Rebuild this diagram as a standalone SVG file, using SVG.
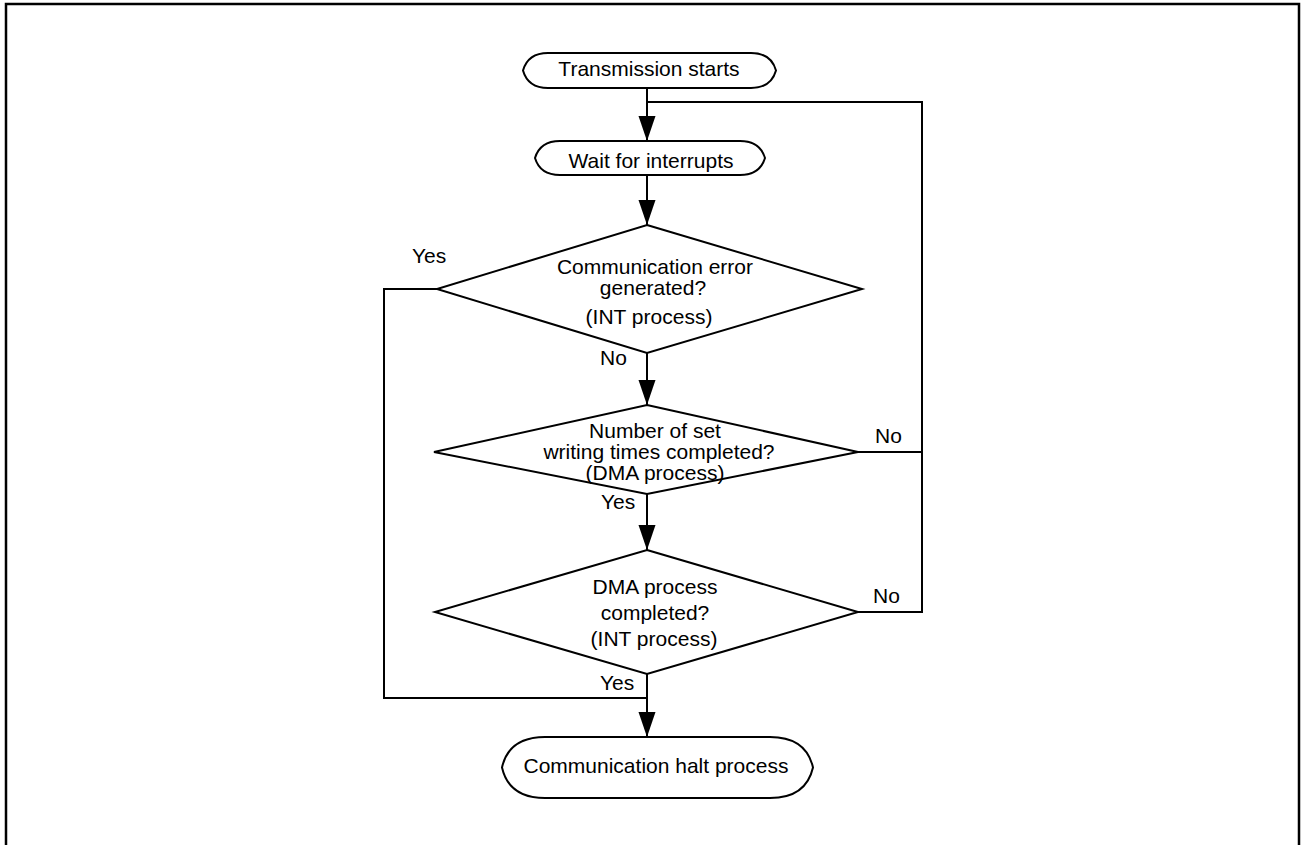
<svg xmlns="http://www.w3.org/2000/svg" width="1301" height="845" viewBox="0 0 1301 845">
<style>
.shape{fill:#fff;stroke:#000;stroke-width:2}
.line{fill:none;stroke:#000;stroke-width:2}
text{font-family:"Liberation Sans",Arial,sans-serif;font-size:21px;fill:#000}
.c{text-anchor:middle}
</style>
<defs>
<marker id="arr" markerUnits="userSpaceOnUse" markerWidth="26" markerHeight="18" refX="25" refY="8.5" orient="auto">
<path d="M0,0 L25,8.5 L0,17 Z" fill="#000"/>
</marker>
</defs>
<rect width="1301" height="845" fill="#fff"/>
<path d="M6,847 V4 H1299 V847" fill="none" stroke="#000" stroke-width="2.5"/>
<g id="connectors">
<line class="line" x1="647" y1="88" x2="647" y2="141" marker-end="url(#arr)"/>
<path class="line" d="M647,102 H922 V612 H858"/>
<path class="line" d="M858,452 H922"/>
<line class="line" x1="647" y1="175" x2="647" y2="225" marker-end="url(#arr)"/>
<line class="line" x1="647" y1="353" x2="647" y2="405" marker-end="url(#arr)"/>
<line class="line" x1="647" y1="494" x2="647" y2="550" marker-end="url(#arr)"/>
<line class="line" x1="647" y1="674" x2="647" y2="737" marker-end="url(#arr)"/>
<path class="line" d="M437,289 H384 V698 H647"/>
<text x="412" y="263">Yes</text>
<text x="600" y="365">No</text>
<text x="875" y="443">No</text>
<text x="601" y="509">Yes</text>
<text x="873" y="603">No</text>
<text x="600" y="690">Yes</text>
</g>
<g id="start">
<path class="shape" d="M523,70.5 C526,60 533,53 548,53 H751 C766,53 773,60 776,70.5 C773,81 766,88 751,88 H548 C533,88 526,81 523,70.5 Z"/>
<text class="c" x="649" y="76">Transmission starts</text>
</g>
<g id="wait">
<path class="shape" d="M535,158 C538,148 545,141 560,141 H740 C755,141 762,148 765,158 C762,168 755,175 740,175 H560 C545,175 538,168 535,158 Z"/>
<text class="c" x="651" y="168">Wait for interrupts</text>
</g>
<g id="errorCheck">
<path class="shape" d="M647,225 L862,289 L647,353 L437,289 Z"/>
<text class="c" x="655" y="274">Communication error</text>
<text class="c" x="653" y="295">generated?</text>
<text class="c" x="649" y="324">(INT process)</text>
</g>
<g id="countCheck">
<path class="shape" d="M647,405 L858,452 L647,494 L434,452 Z"/>
<text class="c" x="655" y="438">Number of set</text>
<text class="c" x="659" y="459">writing times completed?</text>
<text class="c" x="655" y="480">(DMA process)</text>
</g>
<g id="dmaCheck">
<path class="shape" d="M647,550 L858,612 L647,674 L435,612 Z"/>
<text class="c" x="655" y="594">DMA process</text>
<text class="c" x="655" y="620">completed?</text>
<text class="c" x="654" y="646">(INT process)</text>
</g>
<g id="halt">
<path class="shape" d="M502,767.5 C506,750 518,737 545,737 H770 C797,737 809,750 813,767.5 C809,785 797,798 770,798 H545 C518,798 506,785 502,767.5 Z"/>
<text class="c" x="656" y="773">Communication halt process</text>
</g>
</svg>
